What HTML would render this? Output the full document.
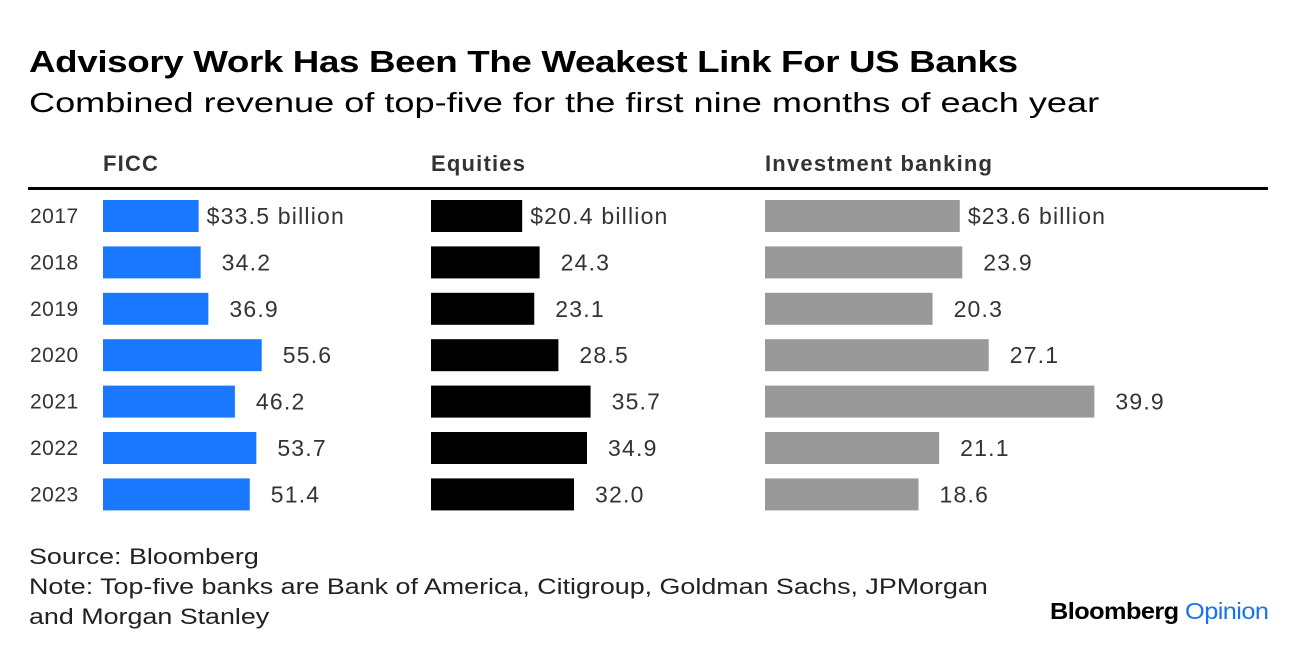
<!DOCTYPE html>
<html><head><meta charset="utf-8"><style>
body{margin:0;width:1296px;height:656px;background:#fff;font-family:"Liberation Sans",Arial,sans-serif;overflow:hidden;position:relative;color:#000}
.t{position:absolute;white-space:nowrap;transform-origin:0 0}
</style></head><body>
<div class="t" style="left:29px;top:44px;font-size:31px;font-weight:bold;letter-spacing:-0.3px;transform:scaleX(1.185)">Advisory Work Has Been The Weakest Link For US Banks</div>
<div class="t" style="left:29px;top:87px;font-size:28px;transform:scaleX(1.29)">Combined revenue of top-five for the first nine months of each year</div>
<svg id="c" width="1296" height="656" style="position:absolute;left:0;top:0"></svg>
<div class="t" style="left:29px;top:542px;font-size:22px;line-height:30px;color:#222;transform:scaleX(1.22)">Source: Bloomberg<br>Note: Top-five banks are Bank of America, Citigroup, Goldman Sachs, JPMorgan<br>and Morgan Stanley</div>
<div class="t" style="left:1050px;top:598px;font-size:23px;font-weight:bold;letter-spacing:-0.5px;transform:scaleX(1.1)">Bloomberg <span style="color:#1a73e8;font-weight:normal">Opinion</span></div>
<script>
const years=["2017","2018","2019","2020","2021","2022","2023"];
const ficc=[33.5,34.2,36.9,55.6,46.2,53.7,51.4];
const equities=[20.4,24.3,23.1,28.5,35.7,34.9,32.0];
const ib=[23.6,23.9,20.3,27.1,39.9,21.1,18.6];
const panelNames=["FICC","Equities","Investment banking"];
const NS="http://www.w3.org/2000/svg";
const svg=document.getElementById('c');
function mk(tag,attrs){const e=document.createElementNS(NS,tag);for(const k in attrs)e.setAttribute(k,attrs[k]);svg.appendChild(e);return e;}
const panels=[{x0:103,scale:2.855,color:"#1a78ff",data:ficc,slug:"ficc"},{x0:431,scale:4.47,color:"#000",data:equities,slug:"equities"},{x0:765,scale:8.255,color:"#999",data:ib,slug:"ib"}];
function yPos(i){return 200+i*46.4;}
let l=mk('line',{x1:28,x2:1268,y1:188.5,y2:188.5,stroke:'#000','stroke-width':3});


years.forEach((y,i)=>{const t=mk('text',{x:30,y:yPos(i)+23,'font-size':21,fill:'#333','letter-spacing':0.5});t.textContent=y;

});
panels.forEach((p,pi)=>{
 const h=mk('text',{x:p.x0,y:171,'font-size':22,'font-weight':'bold',fill:'#333','letter-spacing':1.2});h.textContent=panelNames[pi];
 
 
 p.data.forEach((v,i)=>{
  const w=v*p.scale;
  const r=mk('rect',{x:p.x0,y:yPos(i),width:w,height:32,fill:p.color});
  
  
  const t=mk('text',{x:p.x0+w+(i==0?8:21),y:yPos(i)+24,'font-size':23,fill:'#333','letter-spacing':1.2});
  t.textContent=i==0?('$'+v.toFixed(1)+' billion'):v.toFixed(1);
  
  
 });
});
</script>
</body></html>
